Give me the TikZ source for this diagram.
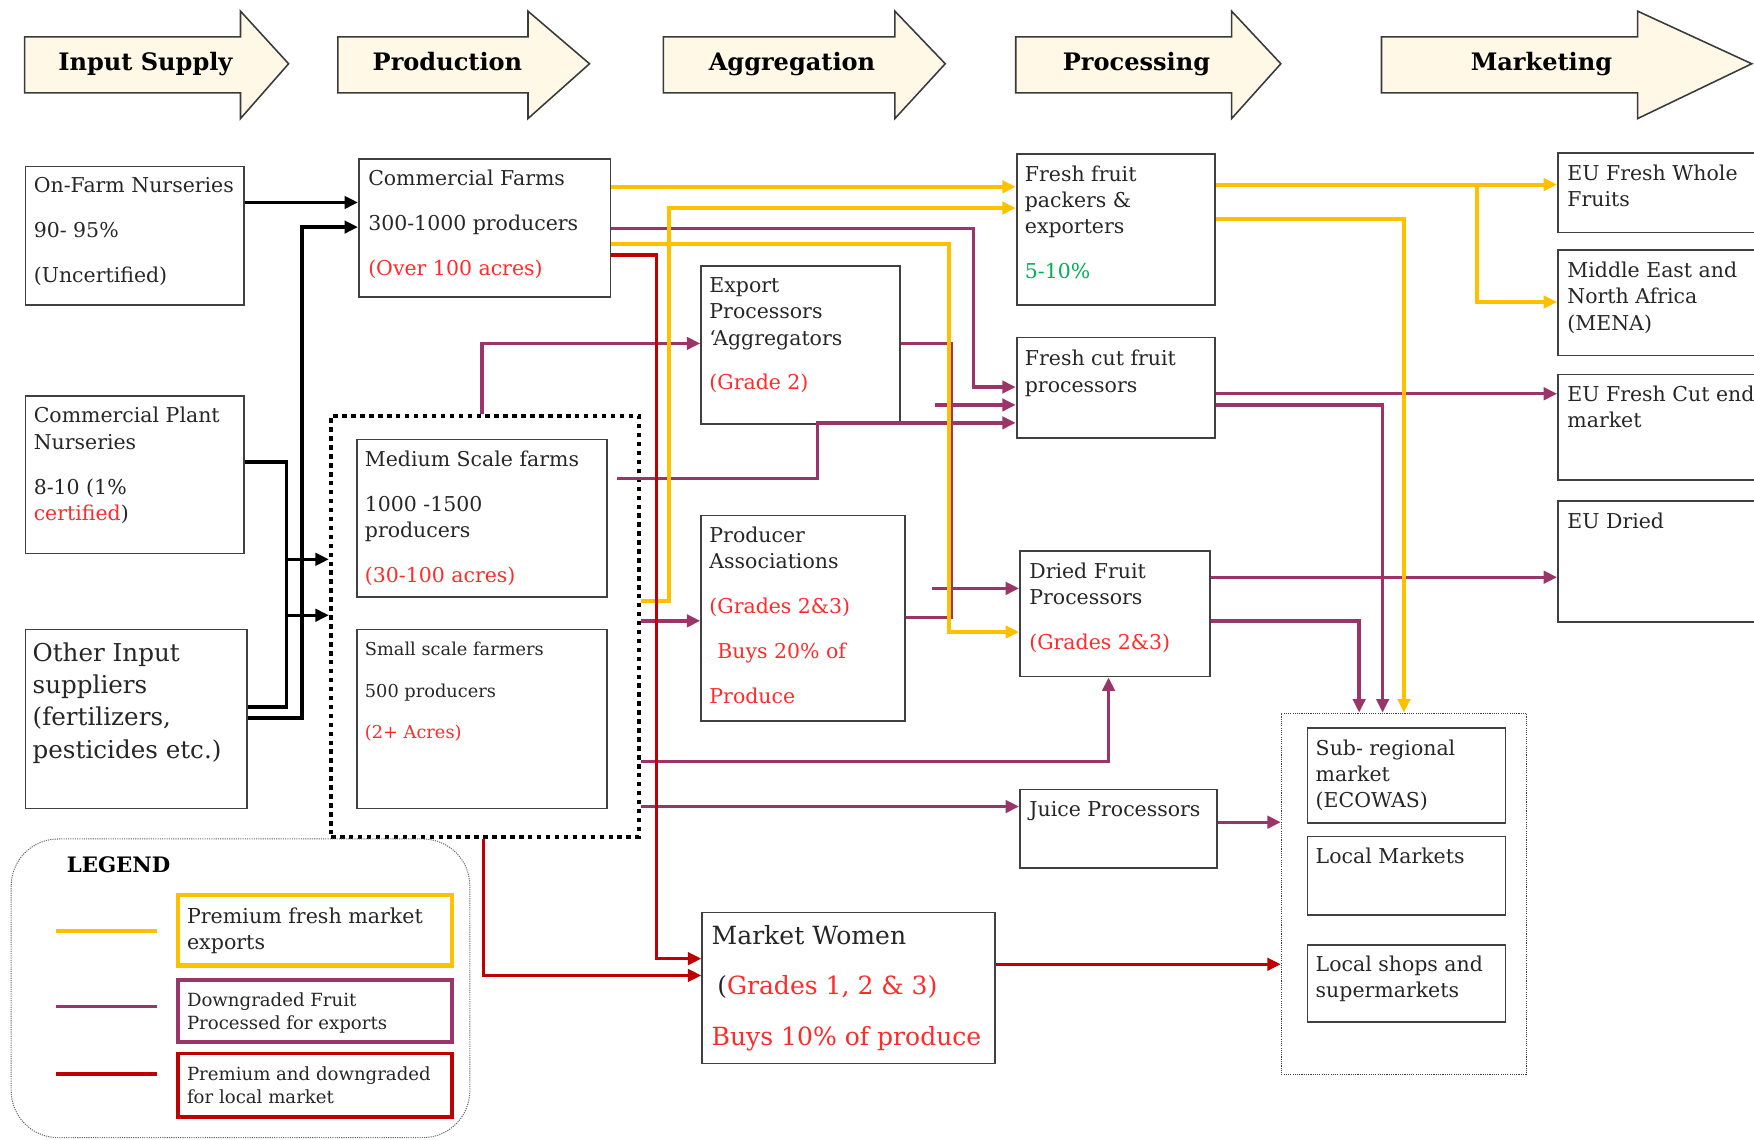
\documentclass[tikz,border=0pt]{standalone}
\usepackage{fontspec}
\setmainfont{DejaVu Serif}
\usetikzlibrary{arrows.meta}
\begin{document}
\begin{tikzpicture}[x=1pt,y=-1pt,
  box/.style={draw=boxgrey,line width=1.6pt,anchor=north west,inner sep=0pt},
  txt/.style={anchor=north west,align=left,inner sep=0pt,text=txtgrey,font=\fontsize{18.3}{23.5}\selectfont},
  stage/.style={fill=stagefill,draw=stageline,line width=1.4pt},
  stagetxt/.style={anchor=base,font=\bfseries\fontsize{21.5}{25}\selectfont},
  tip/.style={-{Triangle[length=12pt,width=11pt]}},
  ylw/.style={draw=flowyellow,line width=3.6pt},
  prp/.style={draw=flowpurple,line width=3pt},
  rd/.style={draw=flowred,line width=3pt},
  blk/.style={draw=black,line width=3pt}]
   \definecolor{boxgrey}{HTML}{404040}
   \definecolor{txtgrey}{HTML}{262626}
   \definecolor{txtred}{HTML}{FF2A2A}
   \definecolor{txtgreen}{HTML}{00B050}
   \definecolor{stagefill}{HTML}{FFF8E6}
   \definecolor{stageline}{HTML}{3A3A3A}
   \definecolor{flowyellow}{HTML}{FFC000}
   \definecolor{flowpurple}{HTML}{9B3468}
   \definecolor{flowred}{HTML}{C00000}
   \useasboundingbox (0,0) rectangle (1568,1019);
   \filldraw [stage] (22,33) -- (215,33) -- (215,10) -- (258,57) -- (215,106) -- (215,83) -- (22,83) -- cycle;
   \filldraw [stage] (302,33) -- (472,33) -- (472,10) -- (527,57) -- (472,106) -- (472,83) -- (302,83) -- cycle;
   \filldraw [stage] (593,33) -- (800,33) -- (800,10) -- (845,57) -- (800,106) -- (800,83) -- (593,83) -- cycle;
   \filldraw [stage] (908,33) -- (1101,33) -- (1101,10) -- (1145,57) -- (1101,106) -- (1101,83) -- (908,83) -- cycle;
   \filldraw [stage] (1235,33) -- (1464,33) -- (1464,10) -- (1566,57) -- (1464,106) -- (1464,83) -- (1235,83) -- cycle;
   \node [stagetxt] (hinput) at (130,63) {Input Supply};
   \node [stagetxt] (hprod) at (400,63) {Production};
   \node [stagetxt] (haggr) at (708,63) {Aggregation};
   \node [stagetxt] (hproc) at (1016,63) {Processing};
   \node [stagetxt] (hmark) at (1378,63) {Marketing};
   \node [box,minimum width=195pt,minimum height=124pt] (onfarm) at (22,148) {};
   \node [box,minimum width=195pt,minimum height=141pt] (cpn) at (22,353) {};
   \node [box,minimum width=198pt,minimum height=160pt] (oin) at (22,562) {};
   \node [box,minimum width=225pt,minimum height=124pt] (cfarm) at (320,141) {};
   \node [box,minimum width=224pt,minimum height=141pt] (medium) at (318,392) {};
   \node [box,minimum width=224pt,minimum height=160pt] (small) at (318,562) {};
   \node [draw=black,line width=4pt,dash pattern=on 4pt off 4pt,anchor=north west,inner sep=0pt,
    minimum width=275pt,minimum height=376pt] (grp) at (294,370) {};
   \node [box,minimum width=178pt,minimum height=141pt] (expproc) at (626,237) {};
   \node [box,minimum width=182pt,minimum height=184pt] (prodassoc) at (626,460) {};
   \node [box,minimum width=262pt,minimum height=135pt] (mktwomen) at (627,815) {};
   \node [box,minimum width=177pt,minimum height=135pt] (freshpack) at (908,137) {};
   \node [box,minimum width=177pt,minimum height=90pt] (freshcut) at (908,301) {};
   \node [box,minimum width=170pt,minimum height=112pt] (dried) at (911,492) {};
   \node [box,minimum width=176pt,minimum height=70pt] (juice) at (911,705) {};
   \node [box,minimum width=180pt,minimum height=71pt] (euwhole) at (1392,136) {};
   \node [box,minimum width=180pt,minimum height=94pt] (mena) at (1392,223) {};
   \node [box,minimum width=180pt,minimum height=94pt] (eucut) at (1392,334) {};
   \node [box,minimum width=180pt,minimum height=108pt] (eudried) at (1392,447) {};
   \node [draw=boxgrey,line width=0.9pt,dash pattern=on 1pt off 1pt,anchor=north west,inner sep=0pt,
    minimum width=219pt,minimum height=323pt] (local) at (1145,637) {};
   \node [box,minimum width=177pt,minimum height=85pt] (subreg) at (1168,650) {};
   \node [box,minimum width=177pt,minimum height=70pt] (localmkt) at (1168,747) {};
   \node [box,minimum width=177pt,minimum height=69pt] (shops) at (1168,844) {};
   \node [txt] (onfarmtxt) at ([xshift=8pt,yshift=-10pt]onfarm.north west)
    {On-Farm Nurseries\\[17pt]90- 95\%\\[17pt](Uncertified)};
   \node [txt] (cpntxt) at ([xshift=8pt,yshift=-11pt]cpn.north west)
    {Commercial Plant\\Nurseries\\[17pt]8-10 (1\%\\\textcolor{txtred}{certified})};
   \node [txt,font=\fontsize{22}{29}\selectfont] (ointxt) at ([xshift=7pt,yshift=-12pt]oin.north west)
    {Other Input\\suppliers\\(fertilizers,\\pesticides etc.)};
   \node [txt] (cfarmtxt) at ([xshift=9pt,yshift=-11pt]cfarm.north west)
    {Commercial Farms\\[16.5pt]300-1000 producers\\[16.5pt]\textcolor{txtred}{(Over 100 acres)}};
   \node [txt] (mediumtxt) at ([xshift=8pt,yshift=-11pt]medium.north west)
    {Medium Scale farms\\[16.5pt]1000 -1500\\producers\\[16.5pt]\textcolor{txtred}{(30-100 acres)}};
   \node [txt,font=\fontsize{15.9}{20}\selectfont] (smalltxt) at ([xshift=8pt,yshift=-12pt]small.north west)
    {Small scale farmers\\[17pt]500 producers\\[17pt]\textcolor{txtred}{(2+ Acres)}};
   \node [txt] (expproctxt) at ([xshift=8pt,yshift=-11pt]expproc.north west)
    {Export\\Processors\\‘Aggregators\\[16.5pt]\textcolor{txtred}{(Grade 2)}};
   \node [txt] (prodassoctxt) at ([xshift=8pt,yshift=-11pt]prodassoc.north west)
    {Producer\\Associations\\[16.5pt]\textcolor{txtred}{(Grades 2\&3)}\\[16.5pt]\hspace*{7pt}\textcolor{txtred}{Buys 20\% of}\\[16.5pt]\textcolor{txtred}{Produce}};
   \node [txt,font=\fontsize{22.4}{28}\selectfont] (mktwomentxt) at ([xshift=9pt,yshift=-12pt]mktwomen.north west)
    {Market Women\\[17pt]\hspace*{5pt}(\textcolor{txtred}{Grades 1, 2 \& 3)}\\[17pt]\textcolor{txtred}{Buys 10\% of produce}};
   \node [txt] (freshpacktxt) at ([xshift=8pt,yshift=-11pt]freshpack.north west)
    {Fresh fruit\\packers \&\\exporters\\[16.5pt]\textcolor{txtgreen}{5-10\%}};
   \node [txt] (freshcuttxt) at ([xshift=8pt,yshift=-12pt]freshcut.north west) {Fresh cut fruit\\processors};
   \node [txt] (driedtxt) at ([xshift=9pt,yshift=-11pt]dried.north west)
    {Dried Fruit\\Processors\\[16.5pt]\textcolor{txtred}{(Grades 2\&3)}};
   \node [txt] (juicetxt) at ([xshift=9pt,yshift=-11pt]juice.north west) {Juice Processors};
   \node [txt] (euwholetxt) at ([xshift=9pt,yshift=-11pt]euwhole.north west) {EU Fresh Whole\\Fruits};
   \node [txt] (menatxt) at ([xshift=9pt,yshift=-11pt]mena.north west) {Middle East and\\North Africa\\(MENA)};
   \node [txt] (eucuttxt) at ([xshift=9pt,yshift=-11pt]eucut.north west) {EU Fresh Cut end\\market};
   \node [txt] (eudriedtxt) at ([xshift=9pt,yshift=-11pt]eudried.north west) {EU Dried};
   \node [txt] (subregtxt) at ([xshift=8pt,yshift=-11pt]subreg.north west) {Sub- regional\\market\\(ECOWAS)};
   \node [txt] (localmkttxt) at ([xshift=8pt,yshift=-11pt]localmkt.north west) {Local Markets};
   \node [txt] (shopstxt) at ([xshift=8pt,yshift=-10pt]shops.north west) {Local shops and\\supermarkets};
   \draw [blk,tip] ([yshift=-33pt]onfarm.north east) -- ([yshift=-40pt]cfarm.north west);
   \draw [blk,tip] ([yshift=-80pt]oin.north east) -- (270,642) -- (270,203) -- ([yshift=-62pt]cfarm.north west);
   \draw [blk] ([yshift=-60pt]cpn.north east) -- (256,413) -- (256,632) -- ([yshift=-70pt]oin.north east);
   \coordinate (busa) at (256,500);
   \coordinate (busb) at (256,550);
   \draw [blk,tip] (busa) -- ([yshift=-130pt]grp.north west);
   \draw [blk,tip] (busb) -- ([yshift=-180pt]grp.north west);
   \draw [prp,tip] ([yshift=-63pt]cfarm.north east) -- (870,204) |- ([yshift=-45pt]freshcut.north west);
   \draw [prp,tip] ([xshift=137pt]grp.north west) |- ([yshift=-70pt]expproc.north west);
   \draw [prp] ([yshift=-70pt]expproc.north east) -- (850,307) |- ([yshift=-92pt]prodassoc.north east);
   \coordinate (cutstub) at (836,362);
   \draw [prp,tip] (cutstub) -- ([yshift=-61pt]freshcut.north west);
   \draw [prp,tip] ([xshift=8pt,yshift=-36pt]medium.north east) -- (731,428) |- ([yshift=-77pt]freshcut.north west);
   \coordinate (driedstub) at (833,526);
   \draw [prp,tip] (driedstub) -- ([yshift=-34pt]dried.north west);
   \draw [prp,tip] ([yshift=-185pt]grp.north east) -- ([yshift=-95pt]prodassoc.north west);
   \draw [prp,tip] ([yshift=-311pt]grp.north east) -| ([xshift=80pt]dried.south west);
   \draw [prp,tip] ([yshift=-351pt]grp.north east) -- ([yshift=-16pt]juice.north west);
   \draw [prp,tip] ([yshift=-30pt]juice.north east) -- ([yshift=-98pt]local.north west);
   \draw [prp,tip] ([yshift=-51pt]freshcut.north east) -- ([yshift=-18pt]eucut.north west);
   \draw [prp,tip] ([yshift=-61pt]freshcut.north east) -| ([xshift=91pt]local.north west);
   \draw [prp,tip] ([yshift=-24pt]dried.north east) -- ([yshift=-69pt]eudried.north west);
   \draw [prp,tip] ([yshift=-63pt]dried.north east) -| ([xshift=70pt]local.north west);
   \draw [ylw,tip] ([yshift=-26pt]cfarm.north east) -- ([yshift=-30pt]freshpack.north west);
   \draw [ylw,tip] ([yshift=-167pt]grp.north east) -- (598,537) |- ([yshift=-49pt]freshpack.north west);
   \draw [ylw,tip] ([yshift=-77pt]cfarm.north east) -- (848,218) |- ([yshift=-73pt]dried.north west);
   \draw [ylw,tip] ([yshift=-28pt]freshpack.north east) -- ([yshift=-29pt]euwhole.north west);
   \coordinate (menajoin) at (1320,165);
   \draw [ylw,tip] (menajoin) |- ([yshift=-47pt]mena.north west);
   \draw [ylw,tip] ([yshift=-59pt]freshpack.north east) -| ([xshift=110pt]local.north west);
   \draw [rd,tip] ([yshift=-87pt]cfarm.north east) -- (587,228) |- ([yshift=-42pt]mktwomen.north west);
   \draw [rd,tip] ([xshift=138pt]grp.south west) |- ([yshift=-57pt]mktwomen.north west);
   \draw [rd,tip] ([yshift=-47pt]mktwomen.north east) -- ([yshift=-225pt]local.north west);
   \draw [draw=black!60,line width=0.9pt,dash pattern=on 1pt off 1pt,rounded corners=42pt] (10,750) rectangle (420,1017);
   \node [font=\bfseries\fontsize{19}{22}\selectfont] (legendtitle) at (106,773) {LEGEND};
   \draw [ylw] (50,832) -- (140,832);
   \draw [prp] (50,900) -- (140,900);
   \draw [rd] (50,960) -- (140,960);
   \node [box,draw=flowyellow,line width=4pt,minimum width=245pt,minimum height=63pt] (ykey) at (157,798) {};
   \node [box,draw=flowpurple,line width=3.5pt,minimum width=245pt,minimum height=56pt] (pkey) at (157,874) {};
   \node [box,draw=flowred,line width=3.5pt,minimum width=245pt,minimum height=57pt] (rkey) at (157,940) {};
   \node [txt,font=\fontsize{18.4}{24}\selectfont] (ykeytxt) at ([xshift=10pt,yshift=-13pt]ykey.north west) {Premium fresh market\\exports};
   \node [txt,font=\fontsize{16.2}{21}\selectfont] (pkeytxt) at ([xshift=10pt,yshift=-13pt]pkey.north west) {Downgraded Fruit\\Processed for exports};
   \node [txt,font=\fontsize{16.2}{21}\selectfont] (rkeytxt) at ([xshift=10pt,yshift=-13pt]rkey.north west) {Premium and downgraded\\for local market};
\end{tikzpicture}
\end{document}
